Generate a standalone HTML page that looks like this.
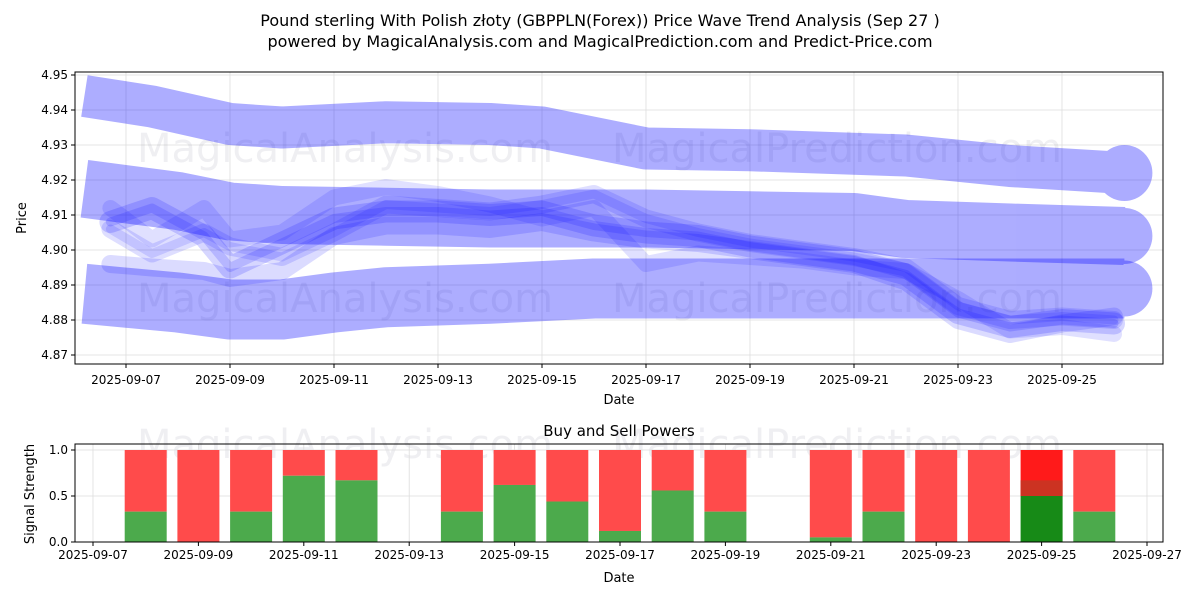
<!DOCTYPE html>
<html><head><meta charset="utf-8"><style>
body{margin:0;background:#fff;}
svg{display:block;font-family:"DejaVu Sans","Liberation Sans",sans-serif;}
</style></head><body>
<svg id="chart" width="1200" height="600" viewBox="0 0 1200 600">
<text x="600" y="26" text-anchor="middle" font-size="16">Pound sterling With Polish złoty (GBPPLN(Forex)) Price Wave Trend Analysis (Sep 27 )</text>
<text x="600" y="47" text-anchor="middle" font-size="16">powered by MagicalAnalysis.com and MagicalPrediction.com and Predict-Price.com</text>
<g id="topPanel"></g>
<g id="botPanel"></g>
</svg>
<script>
// ---- data ----
const yTicks = [4.87,4.88,4.89,4.90,4.91,4.92,4.93,4.94,4.95];
const xTickDays = [7,9,11,13,15,17,19,21,23,25];
const xTickLabels = ["2025-09-07","2025-09-09","2025-09-11","2025-09-13","2025-09-15","2025-09-17","2025-09-19","2025-09-21","2025-09-23","2025-09-25"];
const topBandDays = [6.2,7.5,9,10,12,14,15,16,17,19,22,24,26.2];
const topBandVals = [4.944,4.941,4.936,4.935,4.9365,4.936,4.935,4.932,4.929,4.9285,4.927,4.924,4.922];
const midBandDays = [6.2,8,9,10,12,14,16,17,19,21,22,24,26.2];
const midBandVals = [4.9175,4.914,4.911,4.910,4.9095,4.909,4.909,4.909,4.9085,4.908,4.906,4.905,4.904];
const lowBandDays = [6.2,8,9,10,11,12,14,16,17,19,21,22,24,26.2];
const lowBandVals = [4.8875,4.885,4.883,4.883,4.885,4.8865,4.8875,4.889,4.889,4.889,4.889,4.889,4.889,4.889];
const waveDays = [6.7,7.5,8.5,9,10,11,12,13,14,15,16,17,18,19,20,21,22,23,24,25,26];
const waveA = [4.908,4.912,4.904,4.895,4.902,4.909,4.911,4.911,4.910,4.911,4.907,4.905,4.904,4.901,4.899,4.897,4.893,4.882,4.878,4.880,4.879];
const waveB = [4.906,4.899,4.905,4.901,4.898,4.905,4.913,4.912,4.911,4.913,4.916,4.909,4.905,4.902,4.900,4.898,4.895,4.884,4.880,4.881,4.880];
const waveC = [4.912,4.903,4.912,4.903,4.905,4.915,4.918,4.916,4.913,4.909,4.912,4.896,4.899,4.898,4.897,4.895,4.894,4.886,4.877,4.878,4.876];
const waveD = [4.896,4.895,4.894,4.892,4.894,4.904,4.907,4.907,4.906,4.908,4.905,4.903,4.902,4.900,4.898,4.896,4.891,4.880,4.876,4.879,4.881];
const sigDays = [8,9,10,11,12,14,15,16,17,18,19,21,22,23,24,25,26];
const sigBuy = [0.33,0,0.33,0.72,0.67,0.33,0.62,0.44,0.12,0.56,0.33,0.05,0.33,0,0,0.5,0.33];
const sigTicks = [0,0.5,1.0];
const botXDays = [7,9,11,13,15,17,19,21,23,25,27];
const botXLabels = ["2025-09-07","2025-09-09","2025-09-11","2025-09-13","2025-09-15","2025-09-17","2025-09-19","2025-09-21","2025-09-23","2025-09-25","2025-09-27"];

const NS="http://www.w3.org/2000/svg";
function mk(p,t,a){const e=document.createElementNS(NS,t);for(const k in a)e.setAttribute(k,a[k]);p.appendChild(e);return e;}
const L=75,R=1163,T=72,B=364;
const xs=d=>126+(d-7)*52;
const ys=v=>75+(4.95-v)*3500;
const topG=document.getElementById('topPanel');
yTicks.forEach(v=>{const g=mk(topG,'line',{x1:L,x2:R,y1:ys(v),y2:ys(v),stroke:'#ddd','stroke-width':0.8});


const t=mk(topG,'text',{x:L-7,y:ys(v)+4,'text-anchor':'end','font-size':12});t.textContent=v.toFixed(2);


mk(topG,'line',{x1:L-4,x2:L,y1:ys(v),y2:ys(v),stroke:'#000'});});
xTickDays.forEach((d,i)=>{const g=mk(topG,'line',{x1:xs(d),x2:xs(d),y1:T,y2:B,stroke:'#ddd','stroke-width':0.8});


mk(topG,'line',{x1:xs(d),x2:xs(d),y1:B,y2:B+4,stroke:'#000'});
const t=mk(topG,'text',{x:xs(d),y:B+20,'text-anchor':'middle','font-size':12});t.textContent=xTickLabels[i];

});
[[345,162,'MagicalAnalysis.com'],[837,162,'MagicalPrediction.com'],[345,312,'MagicalAnalysis.com'],[837,312,'MagicalPrediction.com']].forEach(w=>{
const t=mk(topG,'text',{x:w[0],y:w[1],'text-anchor':'middle','font-size':40,fill:'rgba(120,120,150,0.12)'});t.textContent=w[2];

});
const cp=mk(topG,'clipPath',{id:'cp'});mk(cp,'rect',{x:L,y:T,width:R-L,height:B-T});
const g=mk(topG,'g',{'clip-path':'url(#cp)'});
function pts(ds,vs){return ds.map((d,i)=>xs(d)+','+ys(vs[i])).join(' ');}
function band(ds,vs,w,name){const bg=mk(g,'g',{opacity:0.32});
const p=mk(bg,'polyline',{points:pts(ds,vs),fill:'none',stroke:'#0000ff','stroke-width':w,'stroke-linejoin':'round'});


const n=ds.length-1;mk(bg,'circle',{cx:xs(ds[n]),cy:ys(vs[n]),r:28,fill:'#0000ff'});}
band(topBandDays,topBandVals,42,'upper-band');
band(midBandDays,midBandVals,58,'middle-band');
band(lowBandDays,lowBandVals,60,'lower-band');
[[waveA,22,0.16],[waveB,18,0.13],[waveC,16,0.12],[waveD,18,0.14],[waveA,9,0.15],[waveB,9,0.12]].forEach(w=>{
const p=mk(g,'polyline',{points:pts(waveDays,w[0]),fill:'none',stroke:'rgba(0,0,255,'+w[2]+')','stroke-width':w[1],'stroke-linejoin':'round','stroke-linecap':'round'});

});
mk(topG,'rect',{x:L,y:T,width:R-L,height:B-T,fill:'none',stroke:'#000','stroke-width':1});
let tt=mk(topG,'text',{x:619,y:404,'text-anchor':'middle','font-size':13});tt.textContent='Date';


tt=mk(topG,'text',{x:26,y:218,'text-anchor':'middle','font-size':13,transform:'rotate(-90 26 218)'});tt.textContent='Price';



const botG=document.getElementById('botPanel');
const bL=75,bR=1163,bT=444,bB=542;
const bx=d=>93+(d-7)*52.7;
const by=v=>542-v*92;
tt=mk(botG,'text',{x:619,y:436,'text-anchor':'middle','font-size':15});tt.textContent='Buy and Sell Powers';


[[345,458,'MagicalAnalysis.com'],[837,458,'MagicalPrediction.com']].forEach(w=>{
const t=mk(botG,'text',{x:w[0],y:w[1],'text-anchor':'middle','font-size':40,fill:'rgba(120,120,150,0.12)'});t.textContent=w[2];

});
sigTicks.forEach(v=>{mk(botG,'line',{x1:bL,x2:bR,y1:by(v),y2:by(v),stroke:'#ddd','stroke-width':0.8});
mk(botG,'line',{x1:bL-4,x2:bL,y1:by(v),y2:by(v),stroke:'#000'});
const t=mk(botG,'text',{x:bL-7,y:by(v)+4,'text-anchor':'end','font-size':12});t.textContent=v.toFixed(1);

});
botXDays.forEach((d,i)=>{mk(botG,'line',{x1:bx(d),x2:bx(d),y1:bT,y2:bB,stroke:'#ddd','stroke-width':0.8});
mk(botG,'line',{x1:bx(d),x2:bx(d),y1:bB,y2:bB+4,stroke:'#000'});
const t=mk(botG,'text',{x:bx(d),y:bB+17,'text-anchor':'middle','font-size':12});t.textContent=botXLabels[i];

});
sigDays.forEach((d,i)=>{const b=sigBuy[i];const hl=d===25;
const s=mk(botG,'rect',{x:bx(d)-21,y:by(1),width:42,height:by(b)-by(1),fill:hl?'#ff1a1a':'#ff4b4b'});


const r=mk(botG,'rect',{x:bx(d)-21,y:by(b),width:42,height:by(0)-by(b),fill:hl?'#178a17':'#4caa4c'});


if(hl){mk(botG,'rect',{x:bx(d)-21,y:by(0.67),width:42,height:by(b)-by(0.67),fill:'#cc3322'});}});
mk(botG,'rect',{x:bL,y:bT,width:bR-bL,height:bB-bT,fill:'none',stroke:'#000'});
tt=mk(botG,'text',{x:619,y:582,'text-anchor':'middle','font-size':13});tt.textContent='Date';


tt=mk(botG,'text',{x:34,y:494,'text-anchor':'middle','font-size':13,transform:'rotate(-90 34 494)'});tt.textContent='Signal Strength';


</script>
</body></html>
